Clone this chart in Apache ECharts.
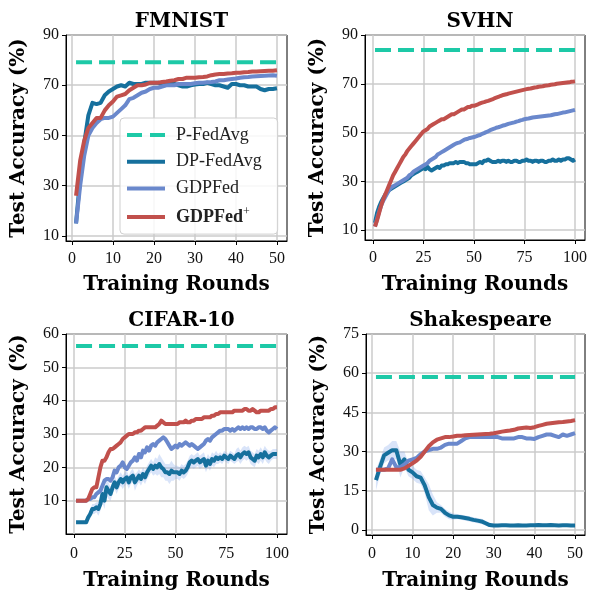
<!DOCTYPE html>
<html>
<head>
<meta charset="utf-8">
<script src="https://cdn.jsdelivr.net/npm/echarts@6/dist/echarts.min.js"></script>
<style>
  html, body { margin: 0; padding: 0; background: #fff; }
  #chart { width: 592px; height: 592px; }
</style>
</head>
<body>
<div id="chart"></div>
<script>
// ---- data ----
const methods = ['P-FedAvg', 'DP-FedAvg', 'GDPFed', 'GDPFed+']
const panelTitles = ['FMNIST', 'SVHN', 'CIFAR-10', 'Shakespeare']

const xTicks50 = [0, 10, 20, 30, 40, 50]
const xTicks100 = [0, 25, 50, 75, 100]
const yTicksFmnist = [10, 30, 50, 70, 90]
const yTicksSvhn = [10, 30, 50, 70, 90]
const yTicksCifar = [10, 20, 30, 40, 50, 60]
const yTicksShakes = [0, 15, 30, 45, 60, 75]

// P-FedAvg reference levels
const pFedAvg = [79.2, 83.9, 56.4, 58.5]

const fmnistDP = [15, 33, 47, 58, 63, 62.5, 63, 66, 67.5, 68.5,
  69.5, 70, 69.5, 71, 70.5, 70.5, 70.5, 71, 71, 71,
  71, 70.5, 70.5, 70.5, 70.5, 70, 69.5, 69.5, 70, 70.3,
  70.5, 70.5, 71, 70.5, 70, 70, 69.5, 69, 70.5, 70.5,
  70, 70, 69.5, 69.5, 69.5, 68.5, 68, 68.5, 68.5, 68.8]
const fmnistGDP = [15, 30, 42, 50, 53, 55, 56.5, 57, 57, 57.5,
  59, 60.5, 62, 64.5, 65, 66, 67, 67.5, 68.5, 69,
  69, 69.5, 70, 70, 70, 70.5, 70.5, 70.5, 70.5, 70.8,
  71, 71, 71.2, 71.3, 71.5, 72, 72, 72.3, 72.5, 72.7,
  73, 73.2, 73.3, 73.5, 73.6, 73.7, 73.8, 73.9, 74, 73.8]
const fmnistPlus = [26, 40, 48, 53, 55, 57, 57, 60, 62, 63.5,
  65.5, 66, 66.5, 68, 69, 70, 70, 70.3, 71, 71,
  71, 71.3, 71.5, 71.8, 72, 72.5, 72.5, 73, 73, 73,
  73.2, 73.3, 73.5, 74, 74.3, 74.5, 74.5, 74.7, 74.8, 75,
  75, 75.2, 75.3, 75.5, 75.5, 75.6, 75.7, 75.8, 75.8, 76]

const svhnDP = [13, 17, 19.5, 21.5, 23, 24.5, 25.5, 26.5, 27, 27.5,
  28, 28.5, 29, 29.5, 30, 30.5, 31, 31.5, 32.5, 33,
  33.5, 34, 34.5, 35, 35.5, 35, 36, 35, 34.5, 35,
  35.5, 36, 35.5, 36.5, 36.5, 37, 37, 37.5, 37.5, 37.5,
  38, 37.5, 38, 38, 38, 37.5, 37.5, 37, 37, 37,
  37, 37.5, 38, 37.5, 38.5, 38.5, 39, 38.5, 38, 38,
  38, 38.5, 38, 38.5, 38.5, 38, 38.5, 38, 38, 38.5,
  38.5, 38, 38, 38.5, 38.5, 39, 38.5, 38.5, 38, 38.5,
  38.5, 38, 38.5, 38.5, 38, 38, 38.5, 38.5, 39, 38.5,
  38.5, 39, 38.5, 39, 39, 39.5, 39.5, 39, 38.5, 39]
const svhnGDP = [11.5, 14.5, 17.5, 20, 22, 23.5, 25, 26.5, 27.5, 28,
  28.5, 29, 29.5, 30, 30.5, 31, 31.5, 32.5, 33, 34,
  34.5, 35, 35.5, 36, 36.5, 37, 37.5, 38.5, 39, 39.5,
  40, 41, 41.5, 42, 42.5, 43, 43.5, 44, 44.5, 45,
  45.5, 45.8, 46, 46.5, 47, 47.3, 47.5, 47.8, 48, 48.2,
  48.5, 48.8, 49, 49.5, 49.8, 50.2, 50.5, 51, 51.3, 51.6,
  52, 52.2, 52.5, 52.8, 53, 53.3, 53.6, 53.8, 54, 54.2,
  54.5, 54.7, 55, 55.2, 55.5, 55.7, 55.8, 56, 56.2, 56.3,
  56.4, 56.5, 56.6, 56.7, 56.8, 56.9, 57, 57.1, 57.3, 57.5,
  57.6, 57.8, 58, 58.2, 58.3, 58.5, 58.7, 58.9, 59.1, 59.3]
const svhnPlus = [11.5, 14, 17, 20, 22.5, 24.5, 26.5, 28.5, 30.5, 32.5,
  34, 35.5, 37, 38.5, 40, 41, 42.5, 43.5, 44.5, 45.5,
  46.5, 47.5, 48.5, 49.5, 50.5, 51, 51.5, 52.5, 53, 53.5,
  54, 54.5, 55, 55.5, 55.5, 56, 56.5, 57, 57.5, 57.5,
  58, 58.5, 59, 59.5, 59.5, 60, 60.5, 60.5, 61, 61,
  61.3, 61.6, 62, 62.3, 62.5, 62.8, 63, 63.3, 63.6, 64,
  64.3, 64.6, 65, 65.3, 65.5, 65.7, 66, 66.2, 66.4, 66.6,
  66.8, 67, 67.2, 67.4, 67.6, 67.8, 68, 68.1, 68.3, 68.5,
  68.6, 68.8, 68.9, 69, 69.2, 69.3, 69.4, 69.6, 69.7, 69.8,
  70, 70.1, 70.2, 70.3, 70.4, 70.5, 70.6, 70.8, 70.9, 71]

const cifarDP = [3.5, 3.5, 3.5, 3.5, 3.5, 3.5, 5, 6, 7.5, 7.5,
  8, 7.5, 9, 12, 10, 14, 13, 12, 14, 15.5,
  14, 15.5, 16.5, 15.5, 16.5, 17, 15.5, 17, 17.5, 15.5,
  16.5, 17.5, 16.5, 18, 17, 18.5, 19.5, 20.5, 19.5, 20.5,
  20, 21, 20, 19.5, 18.5, 18.5, 18, 19, 18.5, 18.5,
  18.5, 18, 19, 18.5, 19, 20, 21.5, 22, 21.5, 22,
  22.5, 21.5, 22, 22.5, 20.5, 22, 21, 22.5, 22, 23,
  22.5, 23, 22.5, 23.5, 23, 22.5, 23.5, 23, 22.5, 23.5,
  24, 23, 24, 24.5, 24, 24.5, 23, 22.5, 22, 23.5,
  23, 24, 23, 24.5, 23.5, 23, 23.5, 24, 24, 24]
const cifarGDP = [10, 10, 10, 10, 10, 10, 10.5, 10.5, 11, 11,
  12, 12.5, 13, 14.5, 16, 16.5, 16.5, 16, 17, 19,
  18.5, 20, 20.5, 21.5, 20, 19.5, 20.5, 21.5, 22, 23,
  22, 24, 23, 25, 24.5, 26, 25, 26.5, 27, 26.5,
  27.5, 28, 28.5, 29, 28.5, 27.5, 26.5, 25.5, 26, 26.5,
  26, 27, 26.5, 27, 27.5, 27, 26.5, 27, 26.5, 26,
  25.5, 26, 26.5, 27, 28, 28.5, 28, 29, 29.5, 30,
  30.5, 31, 31, 31.5, 31.5, 31.5, 31, 31.5, 31, 31.5,
  32, 31.5, 32, 31.5, 32, 31.5, 32, 32, 31.5, 31.5,
  32, 32, 31.5, 32, 31, 30.5, 31, 31.5, 32, 31.5]
const cifarPlus = [10, 10, 10, 10, 10, 10, 10.5, 12, 13.5, 14,
  14, 17, 20, 22, 22, 23, 24.5, 25.5, 25.5, 26,
  26.5, 27, 27.5, 28.5, 29, 29.5, 30, 30, 30, 30.5,
  30.5, 31, 31, 31.5, 32, 32, 32, 32, 32, 32,
  32.5, 33, 34, 33.5, 33, 33, 33, 33, 33, 33,
  33, 33.5, 33.5, 33.5, 34, 33.5, 33.5, 34, 34, 34.5,
  34.5, 34.5, 34.5, 35, 35, 35, 35, 35.5, 35.5, 36,
  36, 36.5, 36.5, 36.5, 36.5, 36.5, 36.5, 36.5, 37, 37,
  37, 37, 37, 37.5, 37.5, 37, 37, 37.5, 37, 36.5,
  36.5, 37, 37, 37, 37, 37, 37.5, 37.5, 38, 38]
// spread of the shaded band round DP-FedAvg on CIFAR-10
const cifarDPSpread = [0.3, 0.3, 0.3, 0.3, 0.3, 0.5, 1, 1.5, 1.5, 1.5,
  1.5, 2, 2, 2.5, 2.5, 2.5, 2.5, 2, 2, 2,
  2, 2, 2, 2, 2, 2, 2, 2, 2, 2.5,
  2, 2, 2, 2, 2, 2, 2, 2, 2, 2.5,
  2.5, 3, 3, 2.5, 2.5, 2.5, 3, 3, 2.5, 2,
  2, 2, 2, 2, 2, 2, 2, 2, 2, 2,
  2, 2, 2, 2, 2, 2, 2, 2, 2, 2,
  1.5, 1.5, 1.5, 1.5, 1.5, 1.5, 1.5, 1.5, 1.5, 2,
  2, 2, 2, 2, 2, 2, 2, 2, 2, 2,
  2, 2, 2, 2, 2, 2, 1.5, 1.5, 1.5, 1.5]

const shakesDP = [19, 24, 28.5, 29.5, 30.5, 30.5, 25, 27, 23, 22,
  20.5, 20, 17, 12.5, 9.5, 8.5, 8, 6.5, 5.5, 5,
  5, 4.8, 4.5, 4.2, 3.8, 3.5, 3.2, 2.5, 1.8, 1.6,
  1.6, 1.7, 1.7, 1.6, 1.6, 1.7, 1.6, 1.6, 1.7, 1.7,
  1.8, 1.7, 1.7, 1.8, 1.7, 1.6, 1.7, 1.7, 1.6, 1.6]
const shakesGDP = [23, 23, 23, 23.5, 27, 24, 24, 25, 26.5, 27,
  27.5, 29, 30, 30.5, 31, 31, 31.5, 32.5, 33, 33,
  33, 34, 35, 35.5, 35.5, 35.5, 35.5, 35.5, 35.5, 35.5,
  35.5, 35, 35, 35, 35, 35.5, 35.5, 35, 35, 34.8,
  35.5, 36, 36.5, 36.5, 36, 35.5, 36.5, 36, 36.5, 37]
const shakesPlus = [23, 23, 23, 23, 23, 23, 23, 23.5, 24.5, 25.5,
  26.5, 28, 30, 32, 33.5, 34.5, 35, 35.5, 35.5, 35.7,
  36, 36, 36.2, 36.3, 36.4, 36.5, 36.6, 36.7, 36.8, 37,
  37.3, 37.6, 37.8, 38, 38.3, 38.8, 39, 39.2, 39, 39.3,
  39.8, 40.2, 40.6, 40.8, 41, 41.2, 41.3, 41.5, 41.7, 42]
// spread of the shaded band round DP-FedAvg on Shakespeare
const shakesDPSpread = [4, 3, 3, 3, 3.5, 3.5, 5, 3, 2.5, 2.5,
  2.5, 2.5, 3, 5, 4, 2, 1.5, 1.5, 1.5, 1.2,
  1, 1, 1, 1, 1, 1, 1, 1, 0.8, 0.6,
  0.5, 0.5, 0.5, 0.5, 0.5, 0.5, 0.5, 0.5, 0.5, 0.5,
  0.5, 0.5, 0.5, 0.5, 0.5, 0.5, 0.5, 0.5, 0.5, 0.5]

// ---- layout / style ----
const colors = ['#1dc9a7', '#16709d', '#6a88cc', '#c1504c']
const bandColor = 'rgba(130, 165, 235, 0.3)'
const serif = "'Liberation Serif', 'DejaVu Serif', serif"
const serifBold = "'DejaVu Serif', serif"
const legendIcons = [
  'path://M0,0H15V4H0Z M23,0H38V4H23Z',
  'path://M0,0H38V4H0Z',
  'path://M0,0H38V4H0Z',
  'path://M0,0H38V4H0Z'
]

const panels = [
  { dp: fmnistDP, gdp: fmnistGDP, plus: fmnistPlus, xMin: -1.45, xMax: 52.45, xTicks: xTicks50, yMin: 8, yMax: 90, yTicks: yTicksFmnist,
    grid: { left: 66, top: 35, width: 221, height: 206 }, titleTop: 7, nameGap: 34, labelMargin: 10 },
  { dp: svhnDP, gdp: svhnGDP, plus: svhnPlus, xMin: -3.95, xMax: 104.95, xTicks: xTicks100, yMin: 6, yMax: 90, yTicks: yTicksSvhn,
    grid: { left: 365, top: 35, width: 220, height: 205 }, titleTop: 7, nameGap: 35, labelMargin: 10 },
  { dp: cifarDP, gdp: cifarGDP, plus: cifarPlus, spread: cifarDPSpread, xMin: -3.95, xMax: 104.95, xTicks: xTicks100, yMin: 0, yMax: 60, yTicks: yTicksCifar,
    grid: { left: 66, top: 334, width: 221, height: 206 }, titleTop: 306, nameGap: 37, labelMargin: 12 },
  { dp: shakesDP, gdp: shakesGDP, plus: shakesPlus, spread: shakesDPSpread, xMin: -1.45, xMax: 52.45, xTicks: xTicks50, yMin: -2, yMax: 75, yTicks: yTicksShakes,
    grid: { left: 366, top: 334, width: 219, height: 207 }, titleTop: 306, nameGap: 36, labelMargin: 11 }
]

const toXY = (arr) => arr.map((v, i) => [i + 1, v])

const grids = []
const xAxes = []
const yAxes = []
const titles = []
const series = []

panels.forEach((p, k) => {
  grids.push(Object.assign({ show: true, borderColor: '#000', borderWidth: 1, backgroundColor: '#fff' }, p.grid))

  const axisCommon = {
    gridIndex: k,
    axisLine: { show: true, onZero: false, lineStyle: { color: '#000', width: 1 } },
    axisTick: { show: true, length: 4, lineStyle: { color: '#000' } },
    splitLine: { show: true, lineStyle: { color: '#cbcbcb', width: 1.5 } },
    axisLabel: { color: '#111', fontFamily: serif, fontSize: 16 },
    nameTextStyle: { color: '#000', fontFamily: serifBold, fontWeight: 'bold', fontSize: 20 },
    nameLocation: 'middle'
  }

  xAxes.push(Object.assign({}, axisCommon, {
    type: 'value', min: p.xMin, max: p.xMax,
    name: 'Training Rounds', nameGap: p.nameGap,
    axisTick: Object.assign({}, axisCommon.axisTick, { customValues: p.xTicks }),
    axisLabel: Object.assign({}, axisCommon.axisLabel, { customValues: p.xTicks, margin: p.labelMargin })
  }))
  yAxes.push(Object.assign({}, axisCommon, {
    type: 'value', min: p.yMin, max: p.yMax,
    name: 'Test Accuracy (%)', nameGap: 37,
    axisTick: Object.assign({}, axisCommon.axisTick, { customValues: p.yTicks }),
    axisLabel: Object.assign({}, axisCommon.axisLabel, { customValues: p.yTicks, margin: 7 })
  }))

  titles.push({
    text: panelTitles[k],
    left: p.grid.left + p.grid.width / 2,
    top: p.titleTop,
    textAlign: 'center',
    textStyle: { fontFamily: serifBold, fontWeight: 'bold', fontSize: 20, color: '#000' }
  })

  // shaded band round DP-FedAvg, drawn as one polygon through the axis scales
  if (p.spread) {
    const bandRows = p.dp.map((v, i) => [i + 1, v - p.spread[i], v + p.spread[i]])
    series.push({
      type: 'custom',
      xAxisIndex: k,
      yAxisIndex: k,
      silent: true,
      z: 1,
      data: [0],
      renderItem: (params, api) => {
        const upper = bandRows.map((r) => api.coord([r[0], r[2]]))
        const lower = bandRows.slice().reverse().map((r) => api.coord([r[0], r[1]]))
        return {
          type: 'polygon',
          shape: { points: upper.concat(lower) },
          style: { fill: bandColor, stroke: null }
        }
      }
    })
  }

  const xFirst = 1
  const xLast = p.dp.length
  const lines = [
    [[xFirst, pFedAvg[k]], [xLast, pFedAvg[k]]],
    toXY(p.dp),
    toXY(p.gdp),
    toXY(p.plus)
  ]
  lines.forEach((data, m) => {
    series.push({
      type: 'line',
      name: methods[m],
      xAxisIndex: k,
      yAxisIndex: k,
      data: data,
      showSymbol: false,
      symbol: 'none',
      z: 2 + m,
      itemStyle: { color: colors[m] },
      lineStyle: { color: colors[m], width: 4, type: m === 0 ? [16, 7] : 'solid', cap: 'butt', join: 'round' }
    })
  })
})

const chart = echarts.init(document.getElementById('chart'), null, { renderer: 'canvas' })
chart.setOption({
  animation: false,
  backgroundColor: '#fff',
  title: titles,
  grid: grids,
  xAxis: xAxes,
  yAxis: yAxes,
  legend: {
    data: methods.map((name, m) => ({ name: name, icon: legendIcons[m], itemStyle: { color: colors[m] } })),
    orient: 'vertical',
    left: 120,
    top: 118,
    itemWidth: 38,
    itemHeight: 4,
    itemGap: 8.7,
    padding: [8, 16, 8, 7],
    backgroundColor: 'rgba(255,255,255,0.85)',
    borderColor: '#cfcfcf',
    borderWidth: 1,
    borderRadius: 4,
    z: 20,
    formatter: (name) => name === 'GDPFed+' ? '{b|GDPFed}{sup|+}' : name,
    textStyle: {
      fontFamily: serif, fontSize: 18, color: '#222', lineHeight: 18, padding: [0, 0, 0, 6],
      rich: {
        b: { fontFamily: serif, fontSize: 18, fontWeight: 'bold', color: '#222' },
        sup: { fontFamily: serif, fontSize: 12, color: '#222', padding: [0, 0, 10, 0] }
      }
    }
  },
  series: series
})
</script>
</body>
</html>
